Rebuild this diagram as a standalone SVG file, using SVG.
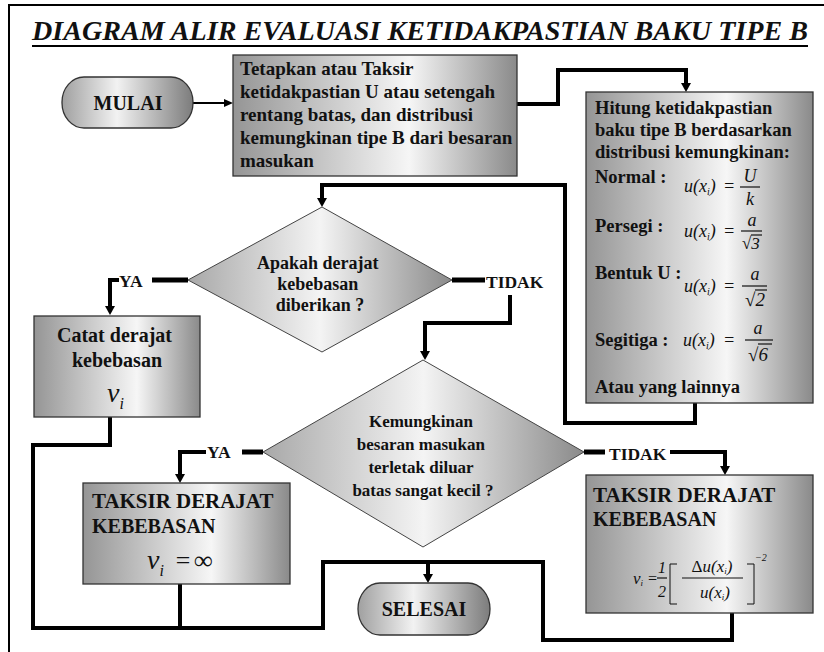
<svg xmlns="http://www.w3.org/2000/svg" width="824" height="652" viewBox="0 0 824 652">
<defs>
<linearGradient id="gBox" x1="0" y1="0" x2="1" y2="0">
<stop offset="0" stop-color="#959595"/><stop offset="0.62" stop-color="#f6f6f6"/><stop offset="1" stop-color="#8a8a8a"/>
</linearGradient>
<linearGradient id="gDia" x1="0" y1="0" x2="1" y2="0">
<stop offset="0" stop-color="#a8a8a8"/><stop offset="0.5" stop-color="#f4f4f4"/><stop offset="1" stop-color="#8a8a8a"/>
</linearGradient>
<linearGradient id="gTerm" x1="0" y1="0" x2="1" y2="0">
<stop offset="0" stop-color="#a0a0a0"/><stop offset="0.42" stop-color="#f2f2f2"/><stop offset="1" stop-color="#7c7c7c"/>
</linearGradient>
<marker id="arr" viewBox="0 0 9 10" refX="0" refY="5" markerWidth="9" markerHeight="10" markerUnits="userSpaceOnUse" orient="auto">
<path d="M0,0 L9,5 L0,10 z" fill="#000"/>
</marker>
<marker id="arrS" viewBox="0 0 9 8" refX="0" refY="4" markerWidth="9" markerHeight="8" markerUnits="userSpaceOnUse" orient="auto">
<path d="M0,0 L9,4 L0,8 z" fill="#000"/>
</marker>
</defs>
<style>
.box{stroke:#333;stroke-width:1.3}
text{font-family:'Liberation Serif','Times New Roman','DejaVu Serif',serif}
.t{font-weight:bold;fill:#111}
.m{font-style:italic;fill:#111}
.c{fill:none;stroke:#000;stroke-width:4;stroke-linejoin:miter}
.s{fill:none;stroke:#000;stroke-width:5}
.fl{stroke:#111;stroke-width:1.2}
</style>
<rect width="824" height="652" fill="#fff"/>
<path d="M9,652 V5 H824" fill="none" stroke="#000" stroke-width="2"/>
<g id="title">
<text x="32" y="40" class="t" font-style="italic" font-size="27" textLength="776" lengthAdjust="spacingAndGlyphs">DIAGRAM ALIR EVALUASI KETIDAKPASTIAN BAKU TIPE B</text>
<line x1="32" y1="46" x2="808" y2="46" stroke="#000" stroke-width="2"/>
</g>
<g id="connectors">
<path d="M193,103 H224" fill="none" stroke="#000" stroke-width="2" marker-end="url(#arrS)"/>
<path class="c" d="M517,104 H558 V70 H686 V83" marker-end="url(#arr)"/>
<path class="c" d="M695,403 V423 H565 V185 H322 V198" marker-end="url(#arr)"/>
<path class="s" d="M188,280 H152"/>
<path class="c" d="M119,280 H110 V306" marker-end="url(#arr)"/>
<path class="s" d="M452,280 H485"/>
<path class="c" d="M510,295 V323 H425 V351" marker-end="url(#arr)"/>
<path class="s" d="M263,452 H242"/>
<path class="c" d="M206,452 H180 V474" marker-end="url(#arr)"/>
<path class="s" d="M584,452 H605"/>
<path class="c" d="M670,452 H725 V466" marker-end="url(#arr)"/>
<path class="c" d="M110,417 V445 H33 V628 H323 V562 H543 V640 H732 V613"/>
<path class="c" d="M180,584 V628"/>
<path class="c" d="M428,562 V574" marker-end="url(#arr)"/>
</g>
<g id="labels">
<text x="119" y="287" class="t" font-size="17.5">YA</text>
<text x="486" y="288" class="t" font-size="17.5">TIDAK</text>
<text x="207" y="458" class="t" font-size="17.5">YA</text>
<text x="609" y="460" class="t" font-size="17.5">TIDAK</text>
</g>
<g id="mulai">
<rect x="62" y="77" width="131" height="51" rx="22" ry="25" fill="url(#gTerm)" class="box"/>
<text x="128" y="110" class="t" font-size="20" text-anchor="middle">MULAI</text>
</g>
<g id="tetapkan">
<rect x="233" y="55" width="284" height="121" fill="url(#gBox)" class="box"/>
<text class="t" font-size="19">
<tspan x="240" y="75">Tetapkan atau Taksir</tspan>
<tspan x="240" y="98">ketidakpastian U atau setengah</tspan>
<tspan x="240" y="121">rentang batas, dan distribusi</tspan>
<tspan x="240" y="144">kemungkinan tipe B dari besaran</tspan>
<tspan x="240" y="167">masukan</tspan>
</text>
</g>
<g id="hitung">
<rect x="586" y="92" width="227" height="311" fill="url(#gBox)" class="box"/>
<text class="t" font-size="18.5">
<tspan x="595" y="114">Hitung ketidakpastian</tspan>
<tspan x="595" y="136">baku tipe B berdasarkan</tspan>
<tspan x="595" y="158">distribusi kemungkinan:</tspan>
<tspan x="595" y="183">Normal :</tspan>
<tspan x="595" y="232">Persegi :</tspan>
<tspan x="595" y="279">Bentuk U :</tspan>
<tspan x="595" y="346">Segitiga :</tspan>
<tspan x="595" y="393">Atau yang lainnya</tspan>
</text>
<text x="684" y="192" class="m" font-size="18">u(x<tspan font-size="10" dy="3">i</tspan><tspan dy="-3">)</tspan></text>
<text x="723" y="192" class="m" font-size="18" font-style="normal">=</text>
<text x="750" y="182" class="m" font-size="18" text-anchor="middle">U</text>
<line x1="740" y1="187" x2="760" y2="187" class="fl"/>
<text x="750" y="205" class="m" font-size="18" text-anchor="middle">k</text>
<text x="684" y="237" class="m" font-size="18">u(x<tspan font-size="10" dy="3">i</tspan><tspan dy="-3">)</tspan></text>
<text x="723" y="237" class="m" font-size="18" font-style="normal">=</text>
<text x="752" y="226" class="m" font-size="18" text-anchor="middle">a</text>
<line x1="741" y1="231" x2="762" y2="231" class="fl"/>
<text x="742" y="249" class="m" font-size="17" font-style="normal">√3</text>
<line x1="751" y1="235" x2="762" y2="235" class="fl"/>
<text x="684" y="292" class="m" font-size="18">u(x<tspan font-size="10" dy="3">i</tspan><tspan dy="-3">)</tspan></text>
<text x="723" y="292" class="m" font-size="18" font-style="normal">=</text>
<text x="755" y="280" class="m" font-size="18" text-anchor="middle">a</text>
<line x1="742" y1="286" x2="767" y2="286" class="fl"/>
<text x="745" y="306" class="m" font-size="19" font-style="normal">√2</text>
<line x1="755" y1="290" x2="767" y2="290" class="fl"/>
<text x="683" y="346" class="m" font-size="18">u(x<tspan font-size="10" dy="3">i</tspan><tspan dy="-3">)</tspan></text>
<text x="723" y="346" class="m" font-size="18" font-style="normal">=</text>
<text x="758" y="334" class="m" font-size="18" text-anchor="middle">a</text>
<line x1="745" y1="340" x2="773" y2="340" class="fl"/>
<text x="748" y="361" class="m" font-size="19" font-style="normal">√6</text>
<line x1="758" y1="344" x2="772" y2="344" class="fl"/>
</g>
<g id="apakah">
<polygon points="322,207 452,280 322,352 188,280" fill="url(#gDia)" stroke="#444" stroke-width="1"/>
<text class="t" font-size="18" text-anchor="middle">
<tspan x="320" y="269">Apakah derajat</tspan>
<tspan x="320" y="290">kebebasan</tspan>
<tspan x="320" y="311">diberikan ?</tspan>
</text>
</g>
<g id="catat">
<rect x="34" y="316" width="166" height="101" fill="url(#gBox)" class="box"/>
<text class="t" font-size="20" text-anchor="middle">
<tspan x="117" y="342">Catat derajat</tspan>
<tspan x="117" y="367">kebebasan</tspan>
</text>
<text x="107" y="402" class="m" font-size="28">ν<tspan font-size="16" dy="7">i</tspan></text>
</g>
<g id="kemungkinan">
<polygon points="423,360 584,452 423,547 263,452" fill="url(#gDia)" stroke="#444" stroke-width="1"/>
<text class="t" font-size="17" text-anchor="middle">
<tspan x="423" y="427">Kemungkinan</tspan>
<tspan x="423" y="450">besaran masukan</tspan>
<tspan x="423" y="473">terletak diluar</tspan>
<tspan x="423" y="496">batas sangat kecil ?</tspan>
</text>
</g>
<g id="taksir-kiri">
<rect x="83" y="483" width="207" height="101" fill="url(#gBox)" class="box"/>
<text class="t" font-size="20">
<tspan x="92" y="508" textLength="181" lengthAdjust="spacingAndGlyphs">TAKSIR DERAJAT</tspan>
<tspan x="92" y="533">KEBEBASAN</tspan>
</text>
<text x="147" y="569" class="m" font-size="28">ν<tspan font-size="16" dy="7">i</tspan></text>
<text x="174" y="569" class="m" font-size="26" font-style="normal">=</text>
<text x="194" y="569" class="m" font-size="26" font-style="normal">∞</text>
</g>
<g id="taksir-kanan">
<rect x="586" y="475" width="227" height="138" fill="url(#gBox)" class="box"/>
<text class="t" font-size="20">
<tspan x="593" y="502" textLength="182" lengthAdjust="spacingAndGlyphs">TAKSIR DERAJAT</tspan>
<tspan x="593" y="526">KEBEBASAN</tspan>
</text>
<text x="633" y="584" class="m" font-size="17">v<tspan font-size="9" dy="2">i</tspan></text>
<text x="647" y="584" class="m" font-size="16" font-style="normal">=</text>
<text x="662" y="573" class="m" font-size="16" font-style="normal" text-anchor="middle">1</text>
<line x1="657" y1="578" x2="667" y2="578" class="fl" stroke-width="1"/>
<text x="662" y="597" class="m" font-size="16" font-style="normal" text-anchor="middle">2</text>
<path d="M677,564 H670 V604 H677" fill="none" stroke="#111" stroke-width="1"/>
<path d="M747,564 H754 V604 H747" fill="none" stroke="#111" stroke-width="1"/>
<text x="712" y="572" class="m" font-size="17" text-anchor="middle"><tspan font-style="normal">Δ</tspan>u(x<tspan font-size="9" dy="2">i</tspan><tspan dy="-2">)</tspan></text>
<line x1="682" y1="578" x2="743" y2="578" class="fl" stroke-width="1"/>
<text x="715" y="598" class="m" font-size="17" text-anchor="middle">u(x<tspan font-size="9" dy="2">i</tspan><tspan dy="-2">)</tspan></text>
<text x="755" y="561" class="m" font-size="10" font-style="normal">−2</text>
</g>
<g id="selesai">
<rect x="358" y="583" width="132" height="52" rx="22" ry="26" fill="url(#gTerm)" class="box"/>
<text x="424" y="616" class="t" font-size="20" text-anchor="middle">SELESAI</text>
</g>
</svg>
